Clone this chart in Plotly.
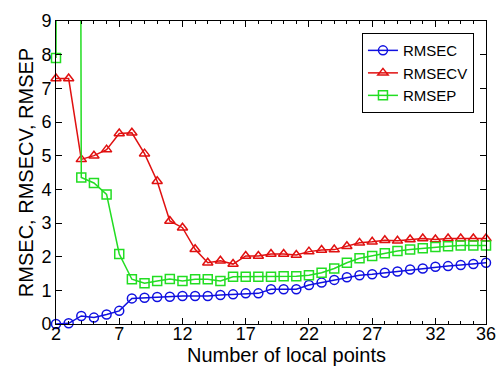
import plotly.graph_objects as go

x = list(range(2, 37))
rmsec = [0.0, 0.02, 0.24, 0.19, 0.28, 0.39, 0.76, 0.78, 0.80, 0.81, 0.83, 0.83, 0.83, 0.86, 0.88, 0.91,
         0.91, 1.03, 1.03, 1.03, 1.16, 1.23, 1.31, 1.39, 1.45, 1.48, 1.52, 1.56, 1.62, 1.65, 1.70, 1.72,
         1.75, 1.78, 1.82]
rmsecv = [7.29, 7.29, 4.89, 5.0, 5.18, 5.66, 5.68, 5.06, 4.24, 3.06, 2.86, 2.22, 1.82, 1.88, 1.78, 2.02,
          2.02, 2.08, 2.08, 2.05, 2.15, 2.20, 2.21, 2.31, 2.41, 2.44, 2.49, 2.47, 2.51, 2.54, 2.51, 2.54,
          2.54, 2.54, 2.54]
rmsep = [7.90, 150.0, 4.35, 4.19, 3.85, 2.08, 1.33, 1.21, 1.28, 1.34, 1.28, 1.33, 1.33, 1.28, 1.40, 1.40,
         1.40, 1.40, 1.42, 1.42, 1.45, 1.52, 1.65, 1.82, 1.95, 2.02, 2.10, 2.17, 2.21, 2.25, 2.29, 2.31,
         2.33, 2.33, 2.33]
xtick_vals = [2, 7, 12, 17, 22, 27, 32, 36]

FONT = "Liberation Sans, Arial, sans-serif"
fig = go.Figure()
series = [
    ("RMSEC", rmsec, "#1010e0", "circle-open"),
    ("RMSECV", rmsecv, "#e01010", "triangle-up-open"),
    ("RMSEP", rmsep, "#22dd22", "square-open"),
]
for name, ys, col, sym in series:
    fig.add_trace(go.Scatter(
        x=x, y=ys, name=name, mode="lines+markers",
        line=dict(color=col, width=1.5),
        marker=dict(symbol=sym, size=9, color=col, line=dict(color=col, width=1.5)),
        cliponaxis=False,
    ))

fig.update_layout(
    template="none",
    width=500, height=367,
    margin=dict(l=56, r=14, t=21, b=43),
    paper_bgcolor="white", plot_bgcolor="white",
    font=dict(family=FONT, size=16, color="black"),
    showlegend=True,
    legend=dict(
        x=0.972, y=0.96, xanchor="right", yanchor="top",
        bordercolor="black", borderwidth=1, bgcolor="white",
        font=dict(size=15), tracegroupgap=0, itemwidth=30,
    ),
)
fig.add_annotation(
    text="Number of local points", xref="paper", yref="paper",
    x=(286 - 56) / 430, y=-31 / 303, xanchor="center", yanchor="middle",
    showarrow=False, font=dict(size=20, family=FONT, color="black"),
)
fig.update_xaxes(
    automargin=False,
    range=[2, 36], tickmode="array", tickvals=xtick_vals,
    ticks="inside", ticklen=6, tickcolor="black", tickwidth=1,
    showline=True, linecolor="black", linewidth=1, mirror="ticks",
    showgrid=False, zeroline=False,
    minor=dict(tickmode="array", tickvals=x, ticks="inside", ticklen=3, tickcolor="black", showgrid=False),
    tickfont=dict(size=18), ticklabelstandoff=-7,
)
fig.update_yaxes(
    automargin=False,
    range=[0, 9], tickmode="linear", tick0=0, dtick=1,
    ticks="inside", ticklen=6, tickcolor="black", tickwidth=1,
    showline=True, linecolor="black", linewidth=1, mirror="ticks",
    showgrid=False, zeroline=False,
    title=dict(text="RMSEC, RMSECV, RMSEP", font=dict(size=20), standoff=2),
    tickfont=dict(size=18),
)
fig.write_html("out.html")
